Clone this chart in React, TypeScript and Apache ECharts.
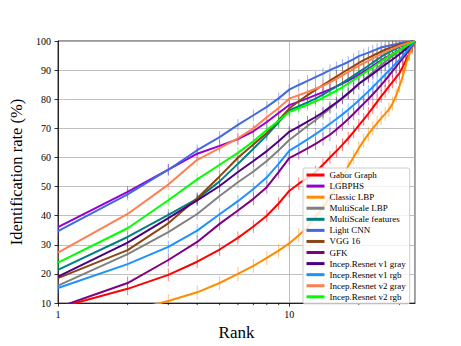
import React, { useEffect, useRef } from "react";
import * as echarts from "echarts";

const ranks = [1,2,3,4,5,6,7,8,9,10,11,12,13,14,15,16,17,18,19,20,21,22,23,24,25,26,27,28,29,30,31,32,33,34,35];

const gaborGraph = [8.4,14.9,19.7,24.2,28.4,32.4,36.3,40,44.2,48.5,51,53,55,57.5,60,62.2,64.4,66.6,68.8,71,73.1,75.1,77.1,79.1,81,82.7,84.4,86,87.5,89,91.2,93.4,95.6,97.8,100];
const lgbphs = [36.1,48.2,55.8,61.3,64,66.3,69,72.2,75.3,78,79.2,80.3,81.4,82.4,83.4,84.4,85.4,86.4,87.4,88.5,89.5,90.5,91.5,92.5,93.4,94.2,94.9,95.6,96.3,97,97.6,98.2,98.8,99.4,100];
const classicLbp = [4,7.2,10.7,13.7,16.9,20,22.8,25.5,28,30.5,33.3,36,39.5,43,46.3,49.6,53,57,60.2,63.2,65.8,68,70,71.8,73.5,75,76.5,78.5,81.3,84.5,88,92,95.2,97.8,100];
const multiScaleLbp = [16,26.8,34.4,40.6,46.8,51.5,55.2,58.8,62.5,66,68.5,70.8,72.9,74.9,76.8,78.6,80.3,82,83.6,85.2,86.6,88,89.3,90.6,91.8,92.9,93.9,94.9,95.8,96.6,97.4,98.1,98.8,99.4,100];
const multiScaleFeatures = [21.4,32.7,40.3,45.8,51.8,57.8,63,67.6,72.1,76.2,77.6,78.9,80.2,81.6,83,84.3,85.6,86.9,88.1,89.3,90.4,91.5,92.6,93.6,94.6,95.4,96.1,96.8,97.4,98,98.5,99,99.4,99.7,100];
const lightCnn = [34.7,47.3,55.8,62.5,67,71.2,74.5,77.4,80.3,83.3,84.9,86.3,87.6,88.8,90,91,91.9,92.8,93.8,94.8,95.4,96,96.6,97.2,97.8,98.1,98.4,98.7,98.9,99.2,99.4,99.6,99.7,99.9,100];
const vgg16 = [18.6,28.2,37.4,46,53.5,59.9,64.5,68.4,72.8,76.8,79.3,81.4,83.2,84.9,86.4,87.8,89.1,90.3,91.4,92.5,93.4,94.2,95,95.7,96.4,97,97.5,98,98.4,98.8,99.1,99.4,99.6,99.8,100];
const gfk = [8.5,16.9,24.8,31,37.2,41.8,45.8,49.8,55,59.8,61.5,63.1,64.7,66.3,67.8,69.6,71.4,73.2,75,76.8,78.5,80.1,81.7,83.3,84.9,86.5,88.1,89.7,91.2,92.7,94.1,95.5,96.9,98.4,100];
const incepV1Gray = [19.1,30.8,39.2,45.3,50.2,55,58.8,62.2,65.6,68.8,70.6,72.3,73.9,75.5,77.3,78.9,80.5,82.1,83.7,85.3,86.5,87.6,88.7,89.8,90.9,91.9,92.8,93.7,94.6,95.5,96.4,97.3,98.2,99.1,100];
const incepV1Rgb = [15.2,23.4,29.3,34.9,40.5,45,49.2,53.2,57.8,62.3,64.3,66.2,68,69.8,71.6,73.2,74.8,76.4,78,79.6,81.2,82.7,84.2,85.7,87.1,88.5,89.8,91.1,92.4,93.6,94.9,96.2,97.5,98.7,100];
const incepV2Gray = [27.3,40.6,50.7,59.2,63.2,66.6,70,73.8,77,80.2,81.4,82.5,83.6,84.6,85.8,87,88.2,89.3,90.4,91.5,92.4,93.2,94,94.8,95.6,96.2,96.8,97.3,97.8,98.3,98.7,99.1,99.4,99.7,100];
const incepV2Rgb = [23.9,35.7,45.3,52.5,57.5,61.6,65.6,69.4,72.6,75.6,76.9,78.1,79.3,80.5,81.8,83,84.2,85.4,86.6,87.8,88.9,90,91,92,93,93.9,94.7,95.5,96.2,96.9,97.6,98.2,98.8,99.4,100];

const seriesNames = [
  "Gabor Graph", "LGBPHS", "Classic LBP", "MultiScale LBP", "MultiScale features",
  "Light CNN", "VGG 16", "GFK", "Incep.Resnet v1 gray", "Incep.Resnet v1 rgb",
  "Incep.Resnet v2 gray", "Incep.Resnet v2 rgb",
];
const seriesValues = [
  gaborGraph, lgbphs, classicLbp, multiScaleLbp, multiScaleFeatures,
  lightCnn, vgg16, gfk, incepV1Gray, incepV1Rgb, incepV2Gray, incepV2Rgb,
];
const seriesColors = [
  "#ff0000", "#9400d3", "#ff8c00", "#808080", "#008080",
  "#4169e1", "#8b4513", "#800080", "#4b0082", "#1e90ff",
  "#ff7f50", "#00ff00",
];
// half-length of the error bars (percentage points), one per series
const errorHalf = [2.2, 2.0, 2.4, 2.0, 2.0, 2.0, 2.0, 2.2, 2.0, 2.2, 2.0, 2.0];
const minorTickRanks = [2, 3, 4, 5, 6, 7, 8, 9, 20, 30];

const SERIF = "'Liberation Serif', 'Times New Roman', serif";

export default function App() {
  const ref = useRef<HTMLDivElement>(null);
  useEffect(() => {
    if (!ref.current) return;
    const chart = echarts.init(ref.current, undefined, { renderer: "svg" });
    const series: any[] = [];
    seriesNames.forEach((name, i) => {
      const color = seriesColors[i];
      const half = errorHalf[i];
      series.push({
        type: "custom",
        name: name + " (error)",
        clip: true,
        silent: true,
        data: ranks.map((r, k) => [r, seriesValues[i][k], half]),
        encode: { x: 0, y: 1 },
        renderItem: (_params: any, api: any) => {
          const x = api.value(0);
          const y = api.value(1);
          const e = api.value(2);
          const p1 = api.coord([x, y - e]);
          const p2 = api.coord([x, y + e]);
          return {
            type: "line",
            shape: { x1: p1[0], y1: p1[1], x2: p2[0], y2: p2[1] },
            style: { stroke: color, lineWidth: 1, opacity: 0.5 },
          };
        },
      });
      series.push({
        type: "line",
        name,
        data: ranks.map((r, k) => [r, seriesValues[i][k]]),
        showSymbol: false,
        symbol: "none",
        clip: true,
        color,
        lineStyle: { color, width: 2 },
      });
    });
    series.push({
      type: "custom",
      name: "minor ticks",
      clip: false,
      silent: true,
      data: minorTickRanks.map((r) => [r, 10]),
      encode: { x: 0, y: 1 },
      renderItem: (_params: any, api: any) => {
        const p = api.coord([api.value(0), api.value(1)]);
        return {
          type: "line",
          shape: { x1: p[0], y1: p[1], x2: p[0], y2: p[1] + 2 },
          style: { stroke: "#000", lineWidth: 0.8 },
        };
      },
    });

    chart.setOption({
      animation: false,
      backgroundColor: "#fff",
      textStyle: { fontFamily: SERIF },
      grid: {
        left: 58, right: 46, top: 41, bottom: 39,
        show: true, borderColor: "#000", borderWidth: 0.8, backgroundColor: "transparent",
      },
      legend: {
        orient: "vertical",
        left: 303,
        top: 168,
        padding: [1.5, 4, 1.5, 3.5],
        itemGap: 0,
        itemWidth: 18,
        itemHeight: 3,
        backgroundColor: "rgba(255,255,255,0.8)",
        borderColor: "#cccccc",
        borderWidth: 1,
        borderRadius: 2,
        textStyle: { fontFamily: SERIF, fontSize: 9, color: "#000", lineHeight: 11.07 },
        data: seriesNames.map((n) => ({ name: n, icon: "rect" })),
      },
      xAxis: {
        type: "log",
        logBase: 10,
        min: 1,
        max: 35,
        name: "Rank",
        nameLocation: "middle",
        nameGap: 19,
        nameTextStyle: { fontFamily: SERIF, fontSize: 17, color: "#000" },
        axisLine: { show: true, lineStyle: { color: "#000", width: 0.8 } },
        axisTick: { show: true, inside: false, length: 3.5, lineStyle: { color: "#000", width: 0.8 } },
        axisLabel: { fontFamily: SERIF, fontSize: 10, color: "#000", margin: 6, showMaxLabel: false },
        splitLine: { show: true, lineStyle: { color: "#b0b0b0", width: 0.8 } },
      },
      yAxis: {
        type: "value",
        min: 10,
        max: 100,
        interval: 10,
        name: "Identification rate (%)",
        nameLocation: "middle",
        nameGap: 21,
        nameTextStyle: { fontFamily: SERIF, fontSize: 16.5, color: "#000" },
        axisLine: { show: true, lineStyle: { color: "#000", width: 0.8 } },
        axisTick: { show: true, inside: false, length: 3.5, lineStyle: { color: "#000", width: 0.8 } },
        axisLabel: { fontFamily: SERIF, fontSize: 10, color: "#000", margin: 7 },
        splitLine: { show: true, lineStyle: { color: "#b0b0b0", width: 0.8 } },
      },
      series,
    });
    return () => chart.dispose();
  }, []);
  return (
    <div
      ref={ref}
      style={{ position: "fixed", left: 0, top: 0, width: 461, height: 346, background: "#fff" }}
    />
  );
}
